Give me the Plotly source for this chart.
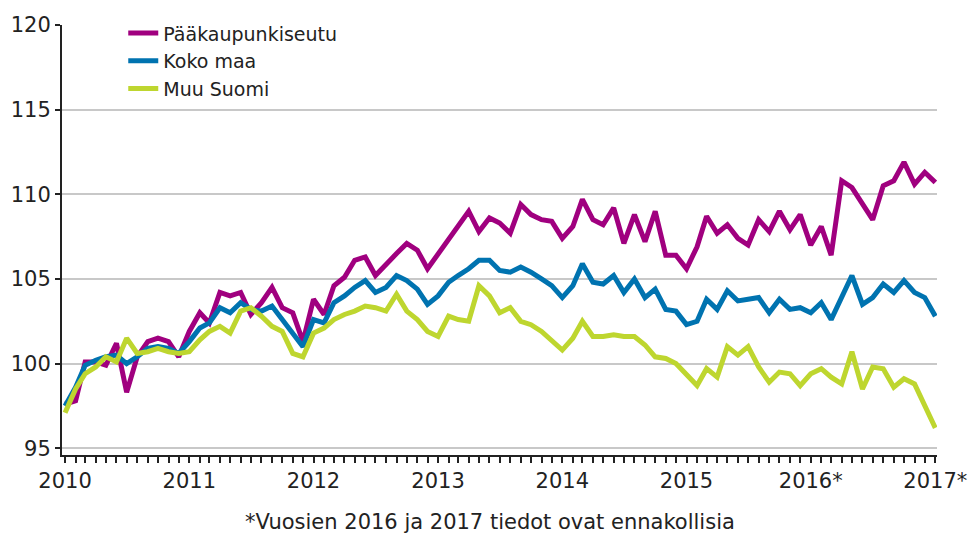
import pandas as pd
import plotly.graph_objects as go

months = pd.date_range("2010-01-01", periods=85, freq="MS")

paakaupunkiseutu = [
    97.6, 97.8, 100.1, 100.1, 99.9, 101.2, 98.3, 100.4, 101.3, 101.5, 101.3, 100.4,
    101.9, 103.0, 102.4, 104.2, 104.0, 104.2, 102.9, 103.6, 104.5, 103.3, 103.0, 101.3,
    103.8, 102.9, 104.6, 105.1, 106.1, 106.3, 105.2, 105.9, 106.5, 107.1, 106.7, 105.6,
    106.5, 107.4, 108.2, 109.0, 107.8, 108.6, 108.3, 107.7, 109.4, 108.8, 108.5, 108.4,
    107.4, 108.1, 109.7, 108.5, 108.2, 109.2, 107.1, 108.8, 107.2, 109.0, 106.4, 106.4,
    105.6, 106.9, 108.7, 107.7, 108.2, 107.4, 107.0, 108.5, 107.8, 109.0, 107.9, 108.8,
    107.0, 108.1, 106.4, 110.8, 110.4, 109.4, 108.5, 110.5, 110.8, 111.9, 110.6, 111.3,
    110.7,
]

koko_maa = [
    97.5, 98.6, 99.9, 100.2, 100.4, 100.5, 100.0, 100.4, 100.9, 101.0, 100.9, 100.6,
    101.3, 102.1, 102.4, 103.3, 103.0, 103.6, 103.2, 103.1, 103.4, 102.6, 101.8, 101.0,
    102.6, 102.4, 103.6, 104.0, 104.5, 104.9, 104.2, 104.5, 105.2, 104.9, 104.4, 103.5,
    104.0, 104.8, 105.2, 105.6, 106.1, 106.1, 105.5, 105.4, 105.7, 105.4, 105.0, 104.6,
    103.9, 104.6, 105.9, 104.8, 104.7, 105.2, 104.2, 105.0, 103.9, 104.4, 103.2, 103.1,
    102.3, 102.5, 103.8, 103.2, 104.3, 103.7, 103.8, 103.9, 103.0, 103.8, 103.2, 103.3,
    103.0, 103.6, 102.6, 104.0, 105.2, 103.5, 103.9, 104.7, 104.2, 104.9, 104.2, 103.9,
    102.8,
]

muu_suomi = [
    97.1, 98.5, 99.4, 99.8, 100.4, 100.1, 101.5, 100.6, 100.7, 100.9, 100.7, 100.6,
    100.7, 101.4, 101.9, 102.2, 101.8, 103.1, 103.3, 102.8, 102.2, 101.9, 100.6, 100.4,
    101.8, 102.1, 102.6, 102.9, 103.1, 103.4, 103.3, 103.1, 104.1, 103.1, 102.6, 101.9,
    101.6, 102.8, 102.6, 102.5, 104.6, 104.0, 103.0, 103.3, 102.5, 102.3, 101.9, 101.4,
    100.8, 101.5, 102.5, 101.6, 101.6, 101.7, 101.6, 101.6, 101.1, 100.4, 100.3, 100.0,
    99.4, 98.7, 99.7, 99.2, 101.0, 100.5, 101.0, 99.8, 98.9, 99.5, 99.4, 98.7,
    99.4, 99.7, 99.2, 98.8, 100.7, 98.5, 99.8, 99.7, 98.6, 99.1, 98.8, 97.5,
    96.2,
]

series_names = ["Pääkaupunkiseutu", "Koko maa", "Muu Suomi"]
series_colors = ["#A0007F", "#0073B0", "#BED62F"]

year_tickvals = ["2010-01-01", "2011-01-01", "2012-01-01", "2013-01-01",
                 "2014-01-01", "2015-01-01", "2016-01-01", "2017-01-01"]
year_ticktext = ["2010", "2011", "2012", "2013", "2014", "2015", "2016*", "2017*"]
y_tickvals = [95, 100, 105, 110, 115, 120]

footnote = "*Vuosien 2016 ja 2017 tiedot ovat ennakollisia"

FONT = "DejaVu Sans"

fig = go.Figure()
for name, vals, col in zip(series_names, [paakaupunkiseutu, koko_maa, muu_suomi], series_colors):
    fig.add_trace(go.Scatter(x=months, y=vals, mode="lines", name=name,
                             line=dict(color=col, width=5)))

fig.update_layout(
    width=968, height=538,
    margin=dict(l=62, r=31, t=25, b=83, autoexpand=False),
    paper_bgcolor="white", plot_bgcolor="white",
    font=dict(family=FONT, size=21, color="#222222"),
    showlegend=True,
    legend=dict(x=0.070, y=1.025, xanchor="left", yanchor="top",
                bgcolor="white", borderwidth=0,
                font=dict(family=FONT, size=19, color="#222222"),
                tracegroupgap=0, itemwidth=30),
    xaxis=dict(
        type="date", automargin=False,
        range=["2009-12-23", "2017-01-06"],
        tickmode="array", tickvals=year_tickvals, ticktext=year_ticktext,
        ticks="outside", ticklen=6, tickcolor="#222222", tickwidth=1.5,
        showline=True, linecolor="#222222", linewidth=2,
        showgrid=False, zeroline=False,
        minor=dict(dtick="M1", tick0="2010-01-01", ticks="outside",
                   ticklen=6, tickcolor="#222222", tickwidth=1.5, showgrid=False),
        tickfont=dict(family=FONT, size=21, color="#222222"),
    ),
    yaxis=dict(
        range=[94.6, 120], automargin=False,
        tickmode="array", tickvals=y_tickvals,
        ticks="outside", ticklen=5, tickcolor="#222222", tickwidth=1.5,
        showline=True, linecolor="#222222", linewidth=2,
        showgrid=True, gridcolor="#c8c8c8", gridwidth=1.5,
        zeroline=False,
        tickfont=dict(family=FONT, size=21, color="#222222"),
    ),
    annotations=[dict(text=footnote, x=0.489, y=-0.156, xref="paper", yref="paper",
                      xanchor="center", yanchor="middle", showarrow=False,
                      font=dict(family=FONT, size=21, color="#222222"))],
)

fig.write_html("out.html",
               config={"displayModeBar": False},
               post_script="document.body.style.margin='0';document.body.style.overflow='hidden';")
